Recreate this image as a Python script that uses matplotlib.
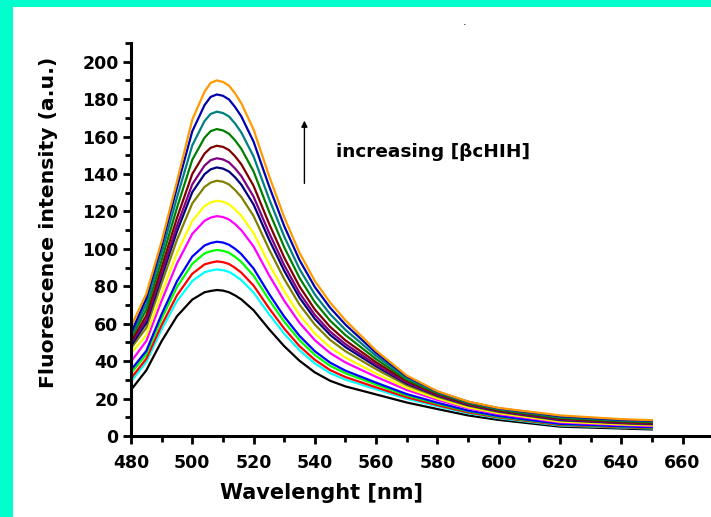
import matplotlib
matplotlib.use('Agg')
import matplotlib.pyplot as plt
from matplotlib.patches import Rectangle
from matplotlib.ticker import MultipleLocator

plt.rcParams['font.family'] = ['DejaVu Sans']

# emission spectra, one per titration step
wavelength = [480, 485, 490, 495, 500, 504, 506, 508, 510, 512, 514, 516, 520, 525,
              530, 535, 540, 545, 550, 560, 570, 580, 590, 600, 620, 640, 650]

s01 = [24.6, 35.1, 50.7, 64.0, 72.9, 76.8, 77.5, 78.0, 77.7, 76.8, 75.1, 73.0, 67.2, 57.2,
       48.0, 40.2, 34.0, 29.5, 26.5, 22.2, 17.9, 14.4, 11.0, 8.6, 5.0, 4.0, 3.5]
s02 = [29.0, 39.6, 57.0, 72.1, 82.8, 87.5, 88.4, 89.0, 88.6, 87.7, 85.7, 83.3, 76.7, 65.2,
       54.7, 45.8, 38.8, 33.6, 30.1, 25.0, 19.9, 15.9, 12.2, 9.5, 5.6, 4.5, 4.0]
s03 = [30.8, 41.3, 59.3, 75.2, 86.7, 91.7, 92.6, 93.3, 92.9, 91.9, 89.8, 87.3, 80.4, 68.4,
       57.4, 48.0, 40.7, 35.2, 31.5, 26.0, 20.7, 16.5, 12.6, 9.9, 5.9, 4.7, 4.2]
s04 = [33.5, 43.7, 62.7, 79.6, 92.0, 97.6, 98.7, 99.4, 99.0, 97.9, 95.7, 93.0, 85.7, 72.9,
       61.1, 51.2, 43.3, 37.5, 33.5, 27.5, 21.7, 17.3, 13.2, 10.3, 6.3, 5.0, 4.5]
s05 = [35.3, 45.5, 65.1, 82.7, 95.9, 101.8, 103.1, 103.8, 103.4, 102.2, 100.0, 97.2, 89.5, 76.1,
       63.8, 53.5, 45.3, 39.2, 34.9, 28.5, 22.4, 17.8, 13.6, 10.7, 6.5, 5.2, 4.7]
s06 = [39.7, 50.8, 72.3, 92.2, 108.0, 115.0, 116.7, 117.5, 117.0, 115.7, 113.2, 110.0, 101.3, 86.1,
       72.3, 60.5, 51.2, 44.3, 39.3, 31.6, 24.6, 19.3, 14.8, 11.7, 7.3, 5.9, 5.3]
s07 = [44.2, 53.9, 76.3, 97.7, 115.0, 122.9, 124.8, 125.7, 125.2, 123.8, 121.0, 117.7, 108.4, 92.1,
       77.3, 64.7, 54.8, 47.4, 41.9, 33.4, 25.7, 20.1, 15.3, 12.2, 7.7, 6.2, 5.7]
s08 = [46.9, 57.8, 81.6, 104.8, 124.3, 133.1, 135.4, 136.4, 135.9, 134.4, 131.4, 127.7, 117.6, 100.0,
       83.9, 70.2, 59.5, 51.3, 45.3, 35.7, 27.1, 21.0, 16.1, 12.8, 8.3, 6.7, 6.1]
s09 = [48.1, 60.4, 85.0, 109.3, 130.3, 139.9, 142.5, 143.5, 142.9, 141.3, 138.2, 134.3, 123.7, 105.2,
       88.3, 73.9, 62.6, 54.0, 47.5, 37.2, 28.0, 21.6, 16.6, 13.2, 8.6, 7.0, 6.5]
s10 = [49.6, 62.1, 87.1, 112.3, 134.5, 144.5, 147.4, 148.4, 147.8, 146.2, 142.9, 138.9, 127.9, 108.8,
       91.3, 76.4, 64.7, 55.8, 49.1, 38.1, 28.5, 21.9, 16.8, 13.4, 8.9, 7.1, 6.7]
s11 = [50.4, 64.4, 90.1, 116.5, 140.0, 150.9, 154.0, 155.1, 154.5, 152.8, 149.4, 145.2, 133.7, 113.7,
       95.4, 79.9, 67.6, 58.3, 51.1, 39.4, 29.3, 22.4, 17.2, 13.7, 9.3, 7.4, 7.0]
s12 = [52.2, 67.5, 94.0, 121.9, 147.6, 159.4, 162.9, 164.0, 163.3, 161.5, 157.9, 153.5, 141.4, 120.2,
       100.9, 84.5, 71.5, 61.6, 53.9, 41.1, 30.1, 22.9, 17.6, 14.1, 9.7, 7.9, 7.4]
s13 = [53.1, 70.6, 97.9, 127.4, 155.3, 168.3, 172.1, 173.3, 172.6, 170.7, 166.9, 162.2, 149.4, 127.0,
       106.6, 89.2, 75.6, 65.1, 56.7, 42.8, 31.0, 23.4, 18.0, 14.5, 10.2, 8.3, 7.8]
s14 = [54.9, 73.6, 101.7, 132.7, 162.8, 176.8, 181.2, 182.5, 181.8, 179.8, 175.7, 170.8, 157.3, 133.8,
       112.2, 94.0, 79.6, 68.5, 59.5, 44.4, 31.8, 23.7, 18.3, 14.8, 10.6, 8.6, 8.2]
s15 = [58.4, 76.0, 104.0, 136.0, 169.0, 184.0, 188.7, 190.0, 189.2, 187.2, 183.0, 177.8, 163.8, 139.3,
       116.9, 97.9, 82.8, 71.3, 61.8, 45.6, 32.3, 23.9, 18.4, 15.0, 11.0, 9.0, 8.5]

spectra = [s01, s02, s03, s04, s05, s06, s07, s08, s09, s10, s11, s12, s13, s14, s15]
colors = ['#000000', '#00FFFF', '#FF0000', '#00FF00', '#0000FF', '#FF00FF', '#FFFF00',
          '#808000', '#000080', '#800080', '#800000', '#008000', '#008080', '#0000B0',
          '#FF9900']

fig = plt.figure(figsize=(7.11, 5.17), dpi=100)
fig.patch.set_facecolor('#00FFCC')
fig.patches.append(Rectangle((13 / 711, 0), 1, 510 / 517, transform=fig.transFigure,
                             facecolor='white', edgecolor='none', zorder=-10))

ax = fig.add_axes([131 / 711, 81 / 517, 580 / 711, 393 / 517])
ax.set_facecolor('none')

for s, c in zip(spectra, colors):
    ax.plot(wavelength, s, color=c, lw=1.6, solid_joinstyle='round')

ax.set_xlim(480, 669.3)
ax.set_ylim(0, 210)
ax.xaxis.set_major_locator(MultipleLocator(20))
ax.xaxis.set_minor_locator(MultipleLocator(10))
ax.yaxis.set_major_locator(MultipleLocator(20))
ax.yaxis.set_minor_locator(MultipleLocator(10))
ax.set_yticks(range(0, 201, 20))

for side in ['top', 'right']:
    ax.spines[side].set_visible(False)
for side in ['left', 'bottom']:
    ax.spines[side].set_linewidth(2.2)
ax.tick_params(which='major', direction='out', length=6, width=2, labelsize=12.5, pad=3)
ax.tick_params(which='minor', direction='out', length=4, width=2)
for lab in ax.get_xticklabels() + ax.get_yticklabels():
    lab.set_fontweight('bold')
ax.tick_params(axis='x', pad=7)

ax.set_xlabel('Wavelenght [nm]', fontsize=15, fontweight='bold')
ax.xaxis.set_label_coords((321 - 131) / 580, -0.12)
ax.set_ylabel('Fluorescence intensity (a.u.)', fontsize=14.7, fontweight='bold')
ax.yaxis.set_label_coords((58 - 131) / 580, (436 - 222) / 393)

ax.annotate('', xy=(536.6, 170), xytext=(536.6, 133.5),
            arrowprops=dict(arrowstyle='-|>', color='black', lw=1, mutation_scale=9))
ax.text(546.8, 151.7, 'increasing [βcHIH]', fontsize=13.3, fontweight='bold', va='center')

fig.text(465 / 711, 1 - 22 / 517, '.', fontsize=8, ha='center', va='center')

fig.savefig('out.png', dpi=100, facecolor=fig.get_facecolor())
